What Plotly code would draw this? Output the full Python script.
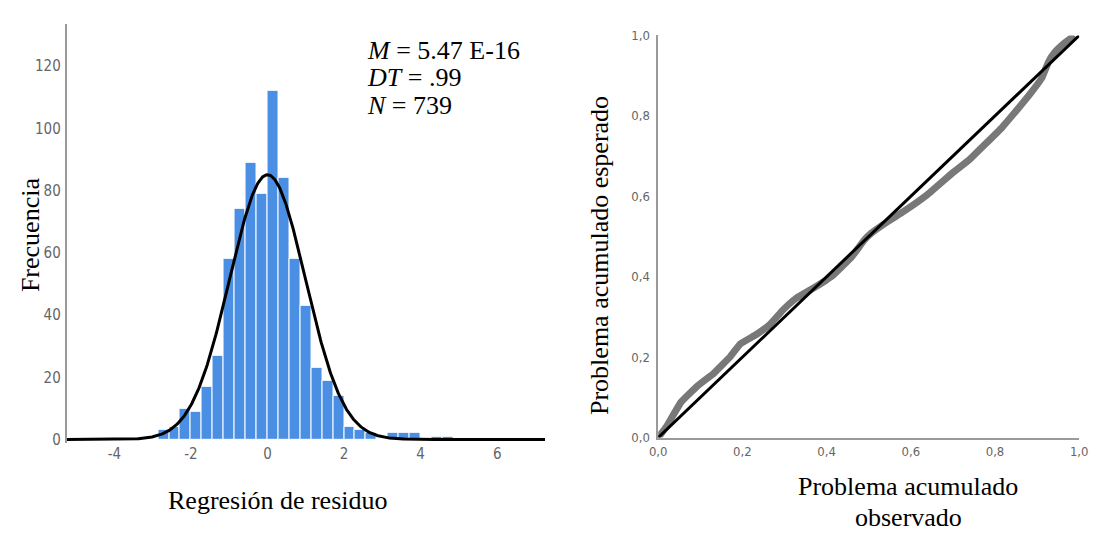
import numpy as np
import plotly.graph_objects as go

W, H = 1100, 536

# ---- Histogram of regression residuals ----
bin_width = 2 / 7
bin_index = list(range(-10, 17))          # left edge = index * bin_width
bin_counts = [3, 4, 10, 9, 17, 27, 58, 74, 89, 79,
              112, 84, 58, 43, 23, 19, 14, 4, 3, 2, 0, 2, 2, 2, 0, 1, 1]

res_mean = 5.47e-16
res_sd = 0.99
res_n = 739

hist_xticks = [-4, -2, 0, 2, 4, 6]
hist_yticks = [0, 20, 40, 60, 80, 100, 120]

# ---- P-P plot (observed vs expected cumulative probability) ----
pp_observed = [0.0, 0.02, 0.054, 0.093, 0.132, 0.171, 0.195, 0.234, 0.265, 0.296,
               0.327, 0.366, 0.413, 0.460, 0.490, 0.506, 0.545, 0.584, 0.639,
               0.701, 0.740, 0.779, 0.818, 0.857, 0.888, 0.911, 0.927, 0.942,
               0.966, 0.989]
pp_expected = [0.0, 0.028, 0.088, 0.128, 0.160, 0.201, 0.233, 0.257, 0.281, 0.317,
               0.346, 0.370, 0.402, 0.450, 0.492, 0.508, 0.537, 0.563, 0.604,
               0.660, 0.692, 0.732, 0.773, 0.821, 0.861, 0.894, 0.934, 0.958,
               0.982, 1.0]
pp_ticks = [0.0, 0.2, 0.4, 0.6, 0.8, 1.0]
pp_ticktext = ["0,0", "0,2", "0,4", "0,6", "0,8", "1,0"]


def px_x(p):
    return p / W


def px_y(p):
    return 1 - p / H


bar_centers = [(i + 0.5) * bin_width for i in bin_index]

# fitted normal curve scaled to the histogram counts
curve_x = np.linspace(-5.25, 7.25, 600)
curve_y = (res_n * bin_width / (res_sd * np.sqrt(2 * np.pi))
           * np.exp(-0.5 * ((curve_x - res_mean) / res_sd) ** 2))

fig = go.Figure()

fig.add_trace(go.Bar(
    x=bar_centers, y=bin_counts, width=bin_width,
    marker=dict(color="#4a8fe3", line=dict(color="white", width=1)),
    xaxis="x", yaxis="y", showlegend=False,
))
fig.add_trace(go.Scatter(
    x=curve_x, y=curve_y, mode="lines",
    line=dict(color="black", width=3),
    xaxis="x", yaxis="y", showlegend=False,
))

fig.add_trace(go.Scatter(
    x=pp_observed, y=pp_expected, mode="lines",
    line=dict(color="#787878", width=7, shape="spline", smoothing=0.3),
    xaxis="x2", yaxis="y2", showlegend=False,
))
fig.add_trace(go.Scatter(
    x=[0, 1], y=[0, 1], mode="lines",
    line=dict(color="black", width=3),
    xaxis="x2", yaxis="y2", showlegend=False,
))

tick_font_left = dict(family="Liberation Sans Narrow, DejaVu Sans Condensed, Roboto",
                      size=15, color="#666666")
tick_font_right = dict(family="Liberation Sans Narrow, DejaVu Sans Condensed, Roboto",
                       size=13, color="#666666")
serif = "Liberation Serif, Times New Roman, serif"

fig.update_layout(
    width=W, height=H,
    margin=dict(l=0, r=0, t=0, b=0),
    paper_bgcolor="white", plot_bgcolor="white",
    bargap=0,
    xaxis=dict(domain=[px_x(58.5), px_x(545)], range=[-5.25, 7.25],
               tickvals=hist_xticks, ticktext=[str(v) for v in hist_xticks],
               showgrid=False, zeroline=False, showline=False,
               ticks="", tickfont=tick_font_left, ticklabelstandoff=0),
    yaxis=dict(domain=[px_y(448.8), px_y(17.3)], range=[-1.2, 133.6],
               tickvals=hist_yticks, ticktext=[str(v) for v in hist_yticks],
               showgrid=False, zeroline=False, showline=True,
               linecolor="#9a9a9a", linewidth=1.5,
               ticks="", tickfont=tick_font_left, ticklabelstandoff=1),
    xaxis2=dict(domain=[px_x(660), px_x(1088)], range=[0, 1], anchor="y2",
                tickvals=pp_ticks, ticktext=pp_ticktext,
                showgrid=False, zeroline=False, showline=True,
                linecolor="#9a9a9a", linewidth=1.5,
                ticks="", tickfont=tick_font_right, ticklabelstandoff=1),
    yaxis2=dict(domain=[px_y(443), px_y(29.3)], range=[0, 1], anchor="x2",
                tickvals=pp_ticks, ticktext=pp_ticktext,
                showgrid=False, zeroline=False, showline=True,
                linecolor="#9a9a9a", linewidth=1.5,
                ticks="", tickfont=tick_font_right, ticklabelstandoff=4),
)

title_font = dict(family=serif, size=26, color="black")

annotations = [
    dict(text="Frecuencia", x=px_x(22), y=px_y(234), textangle=-90),
    dict(text="Regresión de residuo", x=px_x(273), y=px_y(508)),
    dict(text="Problema acumulado esperado", x=px_x(601), y=px_y(256), textangle=-90),
    dict(text="Problema acumulado", x=px_x(914), y=px_y(493)),
    dict(text="observado", x=px_x(914), y=px_y(525)),
]
for a in annotations:
    fig.add_annotation(xref="paper", yref="paper", showarrow=False,
                       xanchor="center", yanchor="middle", font=title_font, **a)

stats_lines = [
    ("<i>M</i> = 5.47 E-16", 45),
    ("<i>DT</i> = .99", 73),
    ("<i>N</i> = 739", 101),
]
for txt, yy in stats_lines:
    fig.add_annotation(xref="paper", yref="paper", showarrow=False,
                       x=px_x(362), y=px_y(yy), xanchor="left", yanchor="middle",
                       text=txt, font=title_font)

fig.write_html("out.html")
